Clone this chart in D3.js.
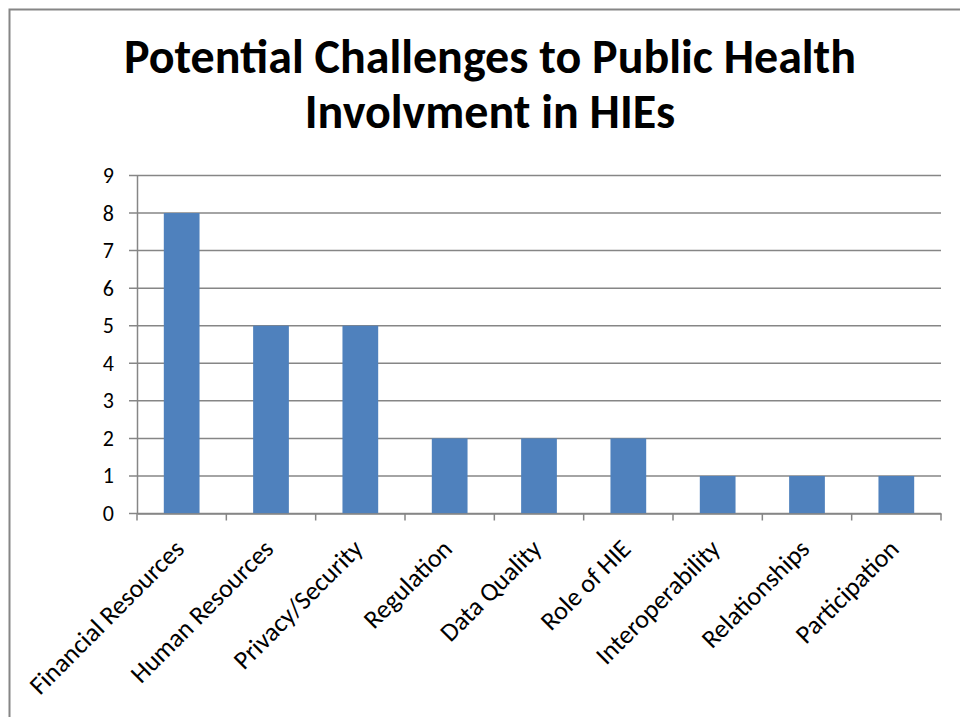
<!DOCTYPE html>
<html><head><meta charset="utf-8">
<script src="https://cdn.jsdelivr.net/npm/d3@7"></script>
<style>body{margin:0;background:#fff}svg{display:block}</style>
</head><body>
<svg id="c" width="960" height="717"></svg>
<script>
const categories = ["Financial Resources","Human Resources","Privacy/Security","Regulation","Data Quality","Role of HIE","Interoperability","Relationships","Participation"];
const values = [8,5,5,2,2,2,1,1,1];
const yTicks = [0,1,2,3,4,5,6,7,8,9];
const titleLines = ["Potential Challenges to Public Health","Involvment in HIEs"];

const svg = d3.select("#c");
const font = "Carlito, Lato, 'Liberation Sans', sans-serif";
const m = {l:137, r:941, t:175.5, b:513.5};

svg.append("rect").attr("x",9.5).attr("y",9.5).attr("width",1000).attr("height",1000)
  .attr("fill","#fff").attr("stroke","#868686").attr("stroke-width",2);

const x = d3.scaleBand().domain(categories).range([m.l,m.r]).paddingInner(0.6).paddingOuter(0.3);
const xb = d3.scaleBand().domain(categories).range([m.l,m.r]);
const y = d3.scaleLinear().domain([0,9]).range([m.b,m.t]);

// gridlines
svg.append("g").selectAll("line").data(yTicks).join("line")
  .attr("x1",m.l-8).attr("x2",m.r).attr("y1",d=>y(d)).attr("y2",d=>y(d))
  .attr("stroke","#868686").attr("stroke-width",1.5);

// y axis
const ya = svg.append("g").attr("transform",`translate(${m.l},0)`)
  .call(d3.axisLeft(y).tickValues(yTicks).tickSize(0).tickPadding(23));
ya.select(".domain").attr("stroke","#868686").attr("stroke-width",1.5);
ya.selectAll("text").attr("font-family",font).attr("font-size",22).attr("fill","#000");

// bars
svg.append("g").selectAll("rect").data(values).join("rect")
  .attr("x",(d,i)=>x(categories[i])).attr("width",x.bandwidth())
  .attr("y",d=>y(d)).attr("height",d=>y(0)-y(d)).attr("fill","#4F81BD");

// x axis
const xa = svg.append("g").attr("transform",`translate(0,${m.b})`)
  .call(d3.axisBottom(xb).tickSize(0).tickFormat(""));
xa.select(".domain").attr("stroke","#868686").attr("stroke-width",1.5);
const bounds = [...categories.map(c=>xb(c)), m.r];
xa.append("g").selectAll("line").data(bounds).join("line")
  .attr("x1",d=>d).attr("x2",d=>d).attr("y1",0).attr("y2",7)
  .attr("stroke","#868686").attr("stroke-width",1.5);

svg.append("g").selectAll("text").data(categories).join("text")
  .attr("transform",d=>`translate(${xb(d)+xb.bandwidth()/2+4},${m.b+37}) rotate(-45)`)
  .attr("text-anchor","end").attr("font-family",font).attr("font-size",26)
  .attr("fill","#000").text(d=>d);

// title
svg.append("g").selectAll("text").data(titleLines).join("text")
  .attr("x",490).attr("y",(d,i)=>73+i*55).attr("text-anchor","middle")
  .attr("font-family",font).attr("font-weight","bold").attr("font-size",48)
  .attr("fill","#000").text(d=>d);
</script>
</body></html>
